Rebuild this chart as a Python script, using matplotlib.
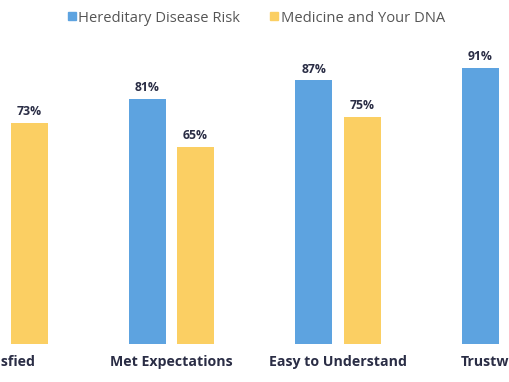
import numpy as np
import matplotlib.pyplot as plt
from matplotlib.lines import Line2D

# data (values off the crop edge are unknown -> NaN)
categories = ["Satisfied", "Met Expectations", "Easy to Understand", "Trustworthy"]
hereditary = [np.nan, 81, 87, 91]
medicine = [73, 65, 75, np.nan]
series_names = ["Hereditary Disease Risk", "Medicine and Your DNA"]

BLUE = "#5DA3E0"
YELLOW = "#FBCF63"
NAVY = "#2A2D45"
GREY = "#555555"

plt.rcParams["font.family"] = ["Open Sans", "DejaVu Sans"]

fig = plt.figure(figsize=(5.1, 3.82), dpi=100)
ax = fig.add_axes([0, (382 - 344) / 382, 1, 344 / 382])

x = np.arange(len(categories))
width = 0.223
offset = 0.1446

for vals, dx, color in [(hereditary, -offset, BLUE), (medicine, offset, YELLOW)]:
    vals = np.array(vals, dtype=float)
    ax.bar(x + dx, vals, width=width, color=color, linewidth=0)
    for xi, v in zip(x + dx, vals):
        if np.isnan(v):
            continue
        ax.text(xi, v + 1.6, f"{v:.0f}%", ha="center", va="bottom",
                fontsize=8.8, fontweight="bold", color=NAVY)

ax.set_xlim(-0.030, 3.033)
ax.set_ylim(0, 344 / 3.03)
ax.set_xticks(x)
ax.set_xticklabels(categories, fontsize=10.2, fontweight="bold", color=NAVY)
ax.tick_params(axis="x", length=0, pad=8)
ax.set_yticks([])
for s in ax.spines.values():
    s.set_visible(False)

handles = [Line2D([], [], marker="s", linestyle="", markersize=6, color=c) for c in (BLUE, YELLOW)]
fig.legend(handles, series_names, loc="center", bbox_to_anchor=(0.502, 1 - 18 / 382),
           ncol=2, frameon=False, fontsize=10.6, labelcolor=GREY,
           handlelength=0.6, handletextpad=0.15, columnspacing=2.0)

fig.savefig("out.png", dpi=100)
